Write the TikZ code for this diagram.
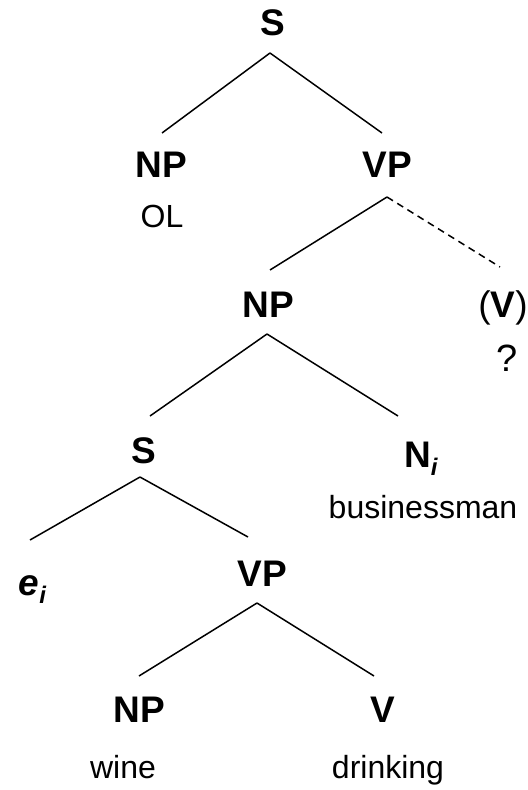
\documentclass[tikz,border=0pt]{standalone}
\usepackage{fontspec}
\setmainfont{Liberation Sans}
% small italic index written below the baseline
\newcommand{\idx}[1]{{\fontsize{24bp}{26bp}\selectfont\raisebox{-8bp}{\textit{#1}}}}
\begin{document}
\begin{tikzpicture}[x=1bp,y=-1bp,
  cat/.style={font=\fontsize{37bp}{40bp}\selectfont\bfseries, anchor=base, inner sep=0pt},
  word/.style={font=\fontsize{32bp}{36bp}\selectfont, anchor=base, inner sep=0pt},
  query/.style={font=\fontsize{38bp}{40bp}\selectfont, anchor=base, inner sep=0pt},
  branch/.style={line width=1.5bp, line cap=butt},
  guess/.style={branch, dash pattern=on 7bp off 5bp}]
\useasboundingbox (0,0) rectangle (528,790);

% categories and words
\node[cat] (s1) at (273,35.5) {S};
\node[cat] (np1) at (161,177) {NP};
\node[cat] (vp1) at (387,177) {VP};
\node[word] (ol) at (162,227.5) {OL};
\node[cat] (np2) at (268,317) {NP};
\node[cat] (vopt) at (503,317) {\mdseries(\bfseries V\mdseries)};
\node[query] (q) at (507,371) {?};
\node[cat] (s2) at (144,463) {S};
\node[cat, anchor=base west] (ni) at (404,467) {N\idx{i}};
\node[word] (bm) at (423,518) {businessman};
\node[cat, anchor=base west] (ei) at (18.5,595) {\textit{e}\idx{i}};
\node[cat] (vp2) at (262,586) {VP};
\node[cat] (np3) at (139,722) {NP};
\node[cat] (v) at (383,722) {V};
\node[word] (wine) at (123,778) {wine};
\node[word] (drink) at (388,778) {drinking};

% branches
\draw[branch] ([shift={(-3,17.5)}]s1.base) -- ([shift={(1,-44)}]np1.base);
\draw[branch] ([shift={(-3,17.5)}]s1.base) -- ([shift={(-5,-44)}]vp1.base);
\draw[branch] ([shift={(0,20)}]vp1.base) -- ([shift={(2,-47)}]np2.base);
\draw[guess] ([shift={(0,20)}]vp1.base) -- ([shift={(-3,-50)}]vopt.base);
\draw[branch] ([shift={(-1,17)}]np2.base) -- ([shift={(6,-47)}]s2.base);
\draw[branch] ([shift={(-1,17)}]np2.base) -- ([shift={(-6,-51)}]ni.base west);
\draw[branch] ([shift={(-4,14)}]s2.base) -- ([shift={(11.5,-55)}]ei.base west);
\draw[branch] ([shift={(-4,14)}]s2.base) -- ([shift={(-14,-49)}]vp2.base);
\draw[branch] ([shift={(-5,17)}]vp2.base) -- ([shift={(0,-46)}]np3.base);
\draw[branch] ([shift={(-5,17)}]vp2.base) -- ([shift={(-9,-46)}]v.base);
\end{tikzpicture}
\end{document}
